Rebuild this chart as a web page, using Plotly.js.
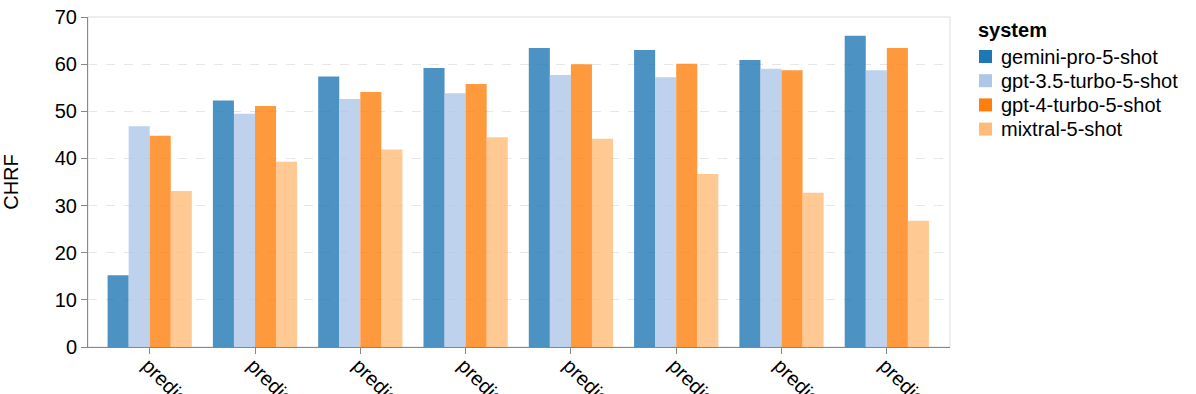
<!DOCTYPE html>
<html>
<head>
<meta charset="utf-8">
<script src="https://cdn.plot.ly/plotly-3.0.1.min.js"></script>
<style>
  html, body { margin: 0; padding: 0; background: #fff; }
  #chart { width: 1196px; height: 394px; }
</style>
</head>
<body>
<div id="chart"></div>
<script>
// categories (labels are cut off at the bottom of the picture)
const tasks = ["prediction-1", "prediction-2", "prediction-3", "prediction-4",
               "prediction-5", "prediction-6", "prediction-7", "prediction-8"];

const systems = ["gemini-pro-5-shot", "gpt-3.5-turbo-5-shot", "gpt-4-turbo-5-shot", "mixtral-5-shot"];
const colors = ["#1f77b4", "#aec7e8", "#ff7f0e", "#ffbb78"];

// CHRF per system, one value per task
const geminiPro = [15.2, 52.3, 57.4, 59.2, 63.4, 63.0, 60.9, 66.0];
const gpt35Turbo = [46.8, 49.5, 52.6, 53.8, 57.7, 57.2, 59.0, 58.7];
const gpt4Turbo = [44.8, 51.1, 54.1, 55.8, 60.0, 60.1, 58.7, 63.4];
const mixtral = [33.1, 39.3, 41.9, 44.5, 44.2, 36.7, 32.7, 26.8];

const yTicks = [0, 10, 20, 30, 40, 50, 60, 70];

const series = [geminiPro, gpt35Turbo, gpt4Turbo, mixtral];
const font = "Liberation Sans, Arial, Helvetica, sans-serif";

const W = 1196, H = 394;
const M = { l: 88, r: 246, t: 17, b: 47 };
const plotW = W - M.l - M.r, plotH = H - M.t - M.b;
// pixel -> paper helpers (legend only)
const px = x => (x - M.l) / plotW;
const py = y => (H - M.b - y) / plotH;

const traces = series.map((vals, i) => ({
    type: "bar",
    name: systems[i],
    x: tasks,
    y: vals,
    marker: { color: colors[i], opacity: 0.8, line: { width: 0 } },
    hoverinfo: "x+y+name",
    showlegend: false
}));

// legend drawn by hand so the row spacing matches (swatches are solid)
const legendShapes = [];
const legendNotes = [{
    xref: "paper", yref: "paper", x: px(976), y: py(30),
    xanchor: "left", yanchor: "middle", showarrow: false,
    text: "<b>system</b>", font: { family: font, size: 20, color: "#000" }
}];
systems.forEach((s, i) => {
    const cy = 56.5 + i * 24.2;
    legendShapes.push({
        type: "rect", xref: "paper", yref: "paper",
        x0: px(979), x1: px(992), y0: py(cy + 6.5), y1: py(cy - 6.5),
        fillcolor: colors[i], line: { width: 0 }
    });
    legendNotes.push({
        xref: "paper", yref: "paper", x: px(999), y: py(cy),
        xanchor: "left", yanchor: "middle", showarrow: false,
        text: s, font: { family: font, size: 20, color: "#000" }
    });
});

const layout = {
    width: W,
    height: H,
    margin: M,
    paper_bgcolor: "#fff",
    plot_bgcolor: "#fff",
    barmode: "group",
    bargap: 0.2,
    bargroupgap: 0,
    font: { family: font, size: 18, color: "#000" },
    xaxis: {
        type: "category",
        range: [-0.586, 7.6],
        tickangle: 45,
        ticks: "outside",
        ticklen: 6,
        tickcolor: "#888",
        ticklabelstandoff: -8,
        ticklabelshift: -2,
        showline: true,
        linecolor: "#888",
        linewidth: 1,
        showgrid: false,
        zeroline: false,
        automargin: false,
        tickfont: { family: font, size: 20, color: "#000" }
    },
    yaxis: {
        range: [0, 70],
        tickvals: yTicks,
        ticks: "outside",
        ticklen: 6,
        tickcolor: "#888",
        showline: true,
        linecolor: "#888",
        linewidth: 1,
        showgrid: true,
        gridcolor: "#e6e6e6",
        griddash: "dash",
        zeroline: false,
        automargin: false,
        tickfont: { family: font, size: 20, color: "#000" },
        title: { text: "CHRF", standoff: 30, font: { family: font, size: 20, color: "#000" } }
    },
    shapes: [{
        type: "rect", xref: "paper", yref: "paper",
        x0: 0, x1: 1, y0: 0, y1: 1,
        line: { color: "#ddd", width: 1 }, layer: "below"
    }].concat(legendShapes),
    annotations: legendNotes,
    showlegend: false
};

Plotly.newPlot("chart", traces, layout, { displayModeBar: false, staticPlot: true });
</script>
</body>
</html>
